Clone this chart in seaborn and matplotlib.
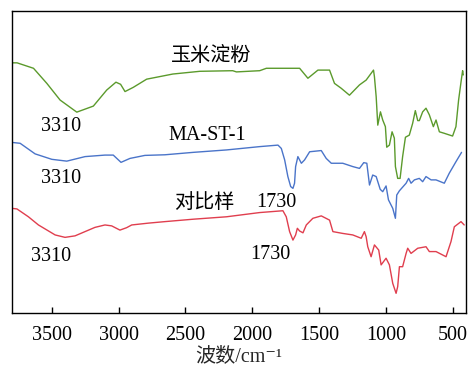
import matplotlib
matplotlib.use("Agg")
import matplotlib.pyplot as plt
import numpy as np
import pandas as pd
import seaborn as sns

# Wavenumbers (cm^-1) and relative transmittance of each FTIR spectrum
corn_wn = [3800, 3760, 3637, 3537, 3438, 3313, 3189, 3089, 3020, 2985, 2952, 2890, 2790,
           2594, 2392, 2146, 2118, 1944, 1894, 1645, 1583, 1508, 1421, 1384, 1334, 1272,
           1197, 1147, 1092, 1085, 1072, 1060, 1040, 1023, 1003, 993, 973, 953, 936, 928,
           911, 893, 874, 853, 824, 799, 779, 761, 749, 724, 699, 674, 644, 624, 599, 562,
           500, 475, 455, 435, 425, 420]
corn_t = [82.8, 82.8, 81.0, 76.0, 70.5, 66.5, 68.5, 73.8, 76.4, 75.7, 73.3, 74.7, 77.4,
          79.1, 80.0, 80.2, 79.8, 80.2, 81.0, 81.0, 77.7, 80.4, 80.4, 76.0, 74.4, 72.1,
          75.5, 77.1, 80.4, 78.2, 71.6, 62.2, 66.6, 63.9, 61.7, 54.9, 55.6, 60.0, 57.9, 48.5,
          44.6, 44.6, 51.8, 58.2, 58.9, 62.8, 67.0, 63.7, 63.7, 66.6, 67.8, 65.6, 61.7, 63.9,
          60.0, 59.5, 58.6, 61.7, 70.5, 77.1, 80.2, 78.8]

mast_wn = [3800, 3737, 3625, 3500, 3388, 3251, 3102, 3040, 2982, 2915, 2803, 2654, 2442,
           2193, 1944, 1807, 1782, 1757, 1733, 1712, 1695, 1683, 1675, 1658, 1632, 1608,
           1570, 1483, 1446, 1408, 1322, 1247, 1197, 1165, 1142, 1122, 1098, 1072, 1042,
           1023, 998, 980, 948, 928, 918, 898, 848, 829, 811, 786, 749, 724, 699, 661, 624,
           562, 525, 475, 433]
mast_t = [56.5, 56.2, 52.7, 50.9, 50.3, 51.8, 52.3, 52.3, 49.9, 51.2, 52.2, 52.4, 53.2,
          54.0, 55.1, 55.6, 54.5, 50.7, 45.2, 41.9, 41.3, 43.0, 48.5, 51.8, 49.6, 50.7,
          53.4, 53.8, 51.2, 49.6, 49.6, 48.5, 47.9, 49.8, 49.6, 42.4, 45.7, 45.2, 41.0,
          40.2, 42.1, 37.5, 34.7, 31.4, 39.1, 40.5, 43.0, 44.6, 43.0, 44.1, 44.6, 43.5, 45.2,
          44.1, 44.1, 43.0, 46.3, 50.1, 53.2]

ref_wn = [3800, 3761, 3675, 3600, 3475, 3401, 3326, 3177, 3102, 3052, 2990, 2940, 2902,
          2778, 2654, 2442, 2193, 1944, 1770, 1745, 1720, 1695, 1675, 1662, 1645, 1620,
          1595, 1546, 1483, 1421, 1396, 1322, 1247, 1184, 1160, 1147, 1135, 1110, 1085,
          1053, 1035, 998, 973, 948, 923, 911, 898, 874, 848, 836, 811, 761, 699, 674, 624,
          549, 512, 487, 437, 413]
ref_t = [34.7, 34.5, 31.9, 29.2, 25.9, 25.1, 25.6, 28.4, 29.2, 28.9, 27.5, 28.3, 29.2,
         29.8, 30.3, 31.1, 31.9, 33.3, 33.9, 31.9, 27.0, 24.2, 25.9, 28.1, 27.2, 26.6,
         29.2, 31.4, 32.2, 30.8, 27.0, 26.4, 25.9, 24.8, 27.0, 25.3, 22.0, 18.7, 22.6,
         20.9, 16.0, 18.2, 16.0, 9.9, 6.6, 8.8, 15.4, 15.4, 19.8, 21.5, 19.8, 21.5, 22.0,
         20.4, 20.4, 18.7, 23.7, 28.6, 30.3, 29.2]

sample_names = ["玉米淀粉", "MA-ST-1", "对比样"]
sample_colors = ["#5b9a2c", "#4a74c9", "#e03e4e"]
x_ticks = [3500, 3000, 2500, 2000, 1500, 1000, 500]

# Annotations: (text, wavenumber, transmittance)
annotations = [
    ("玉米淀粉", 2310, 84.9),
    ("3310", 3430, 61.6),
    ("MA-ST-1", 2336, 58.9),
    ("3310", 3430, 44.6),
    ("对比样", 2362, 36.3),
    ("1730", 1817, 36.5),
    ("3310", 3505, 18.8),
    ("1730", 1862, 19.4),
]

frames = []
for name, wn, t in zip(sample_names, [corn_wn, mast_wn, ref_wn], [corn_t, mast_t, ref_t]):
    frames.append(pd.DataFrame({"wavenumber": wn, "T": t, "sample": name}))
df = pd.concat(frames, ignore_index=True)

sns.set_style("ticks")
text_fonts = ["Liberation Serif", "Noto Sans CJK SC", "DejaVu Serif"]
plt.rcParams["font.family"] = text_fonts

fig = plt.figure(figsize=(4.69, 3.69), dpi=100)
ax = fig.add_axes([0.025, 0.151, 0.9685, 0.8197])

sns.lineplot(data=df, x="wavenumber", y="T", hue="sample", hue_order=sample_names,
             palette=sample_colors, sort=False, estimator=None, linewidth=1.0,
             legend=False, ax=ax)

for txt, wx, ty in annotations:
    ax.text(wx, ty, txt, ha="center", va="center", fontsize=14.5, family=text_fonts,
            color="black")

ax.set_xlim(3800, 400)
ax.set_ylim(0, 100)
ax.set_xticks(x_ticks)
ax.set_xticklabels([str(v) for v in x_ticks])
ax.set_yticks([])
ax.set_ylabel("")
ax.set_xlabel("波数/cm\u207b\u00b9", fontsize=14.5, labelpad=2, family=text_fonts)
ax.tick_params(axis="x", direction="in", length=4, width=1, labelsize=14.5, pad=9,
               colors="black")
for side in ["left", "right", "top", "bottom"]:
    ax.spines[side].set_visible(True)
    ax.spines[side].set_linewidth(1.0)
    ax.spines[side].set_color("black")

fig.savefig("out.png", dpi=100)
